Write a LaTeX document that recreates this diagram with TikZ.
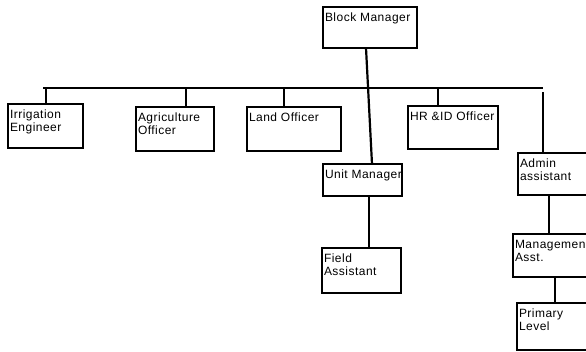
\documentclass[tikz,border=0pt]{standalone}
\usepackage{fontspec}
\setmainfont{Liberation Sans}[LetterSpace=4]
\usetikzlibrary{calc}
% a box of given size with its text set from the top left corner
\newcommand{\orgtext}[3]{\parbox[t][#2][t]{#1}{\raggedright\hyphenpenalty=10000\rule{0pt}{12pt}#3}}
\begin{document}
\begin{tikzpicture}[x=1pt,y=-1pt,
  post/.style={draw=black,line width=2pt,anchor=north west,inner xsep=2pt,inner ysep=2pt,
    outer sep=0pt,font=\fontsize{12}{13}\selectfont},
  link/.style={draw=black,line width=2.2pt}]
\clip (0,0) rectangle (586,351);
\fill[white] (0,0) rectangle (586,351);

% posts
\node[post] (bm) at (323,7)   {\orgtext{90pt}{37pt}{Block Manager}};
\node[post] (ie) at (8,104)   {\orgtext{71pt}{40pt}{Irrigation\\Engineer}};
\node[post] (ao) at (136,107) {\orgtext{74pt}{40pt}{Agriculture\\Officer}};
\node[post] (lo) at (247,107) {\orgtext{90pt}{40pt}{Land Officer}};
\node[post] (hr) at (408,106) {\orgtext{86pt}{39pt}{HR \&ID Officer}};
\node[post] (um) at (323,164) {\orgtext{75pt}{28pt}{\mbox{Unit Manager}}};
\node[post] (fa) at (322,248) {\orgtext{75pt}{41pt}{Field\\Assistant}};
\node[post] (aa) at (518,153) {\orgtext{78pt}{38pt}{Admin\\assistant}};
\node[post] (ma) at (513,234) {\orgtext{83pt}{39pt}{\mbox{Management}\\Asst.}};
\node[post] (pl) at (517,303) {\orgtext{79pt}{43pt}{Primary\\Level}};

% common bar and its drops
\coordinate (barL) at (43,88);
\coordinate (barR) at (543,88);
\draw[link,line width=2.8pt] (barL) -- (barR);
\coordinate (d1) at (46,88);
\coordinate (d2) at (186,88);
\coordinate (d3) at (284,88);
\coordinate (d4) at (438,88);
\coordinate (d5) at (543,92);
\draw[link] (d1) -- (d1 |- ie.north);
\draw[link] (d2) -- (d2 |- ao.north);
\draw[link] (d3) -- (d3 |- lo.north);
\draw[link] (d4) -- (d4 |- hr.north);
\draw[link] (d5) -- (d5 |- aa.north);

% line from the block manager down to the unit manager
\draw[link] ($(bm.south west)+(43,0)$) -- ($(um.north west)+(49,0)$);
% lower chains
\draw[link] ($(um.south west)+(46,0)$) -- ($(fa.north west)+(47,0)$);
\draw[link] ($(aa.south west)+(31,0)$) -- ($(ma.north west)+(36,0)$);
\draw[link] ($(ma.south west)+(42,0)$) -- ($(pl.north west)+(38,0)$);
\end{tikzpicture}
\end{document}
